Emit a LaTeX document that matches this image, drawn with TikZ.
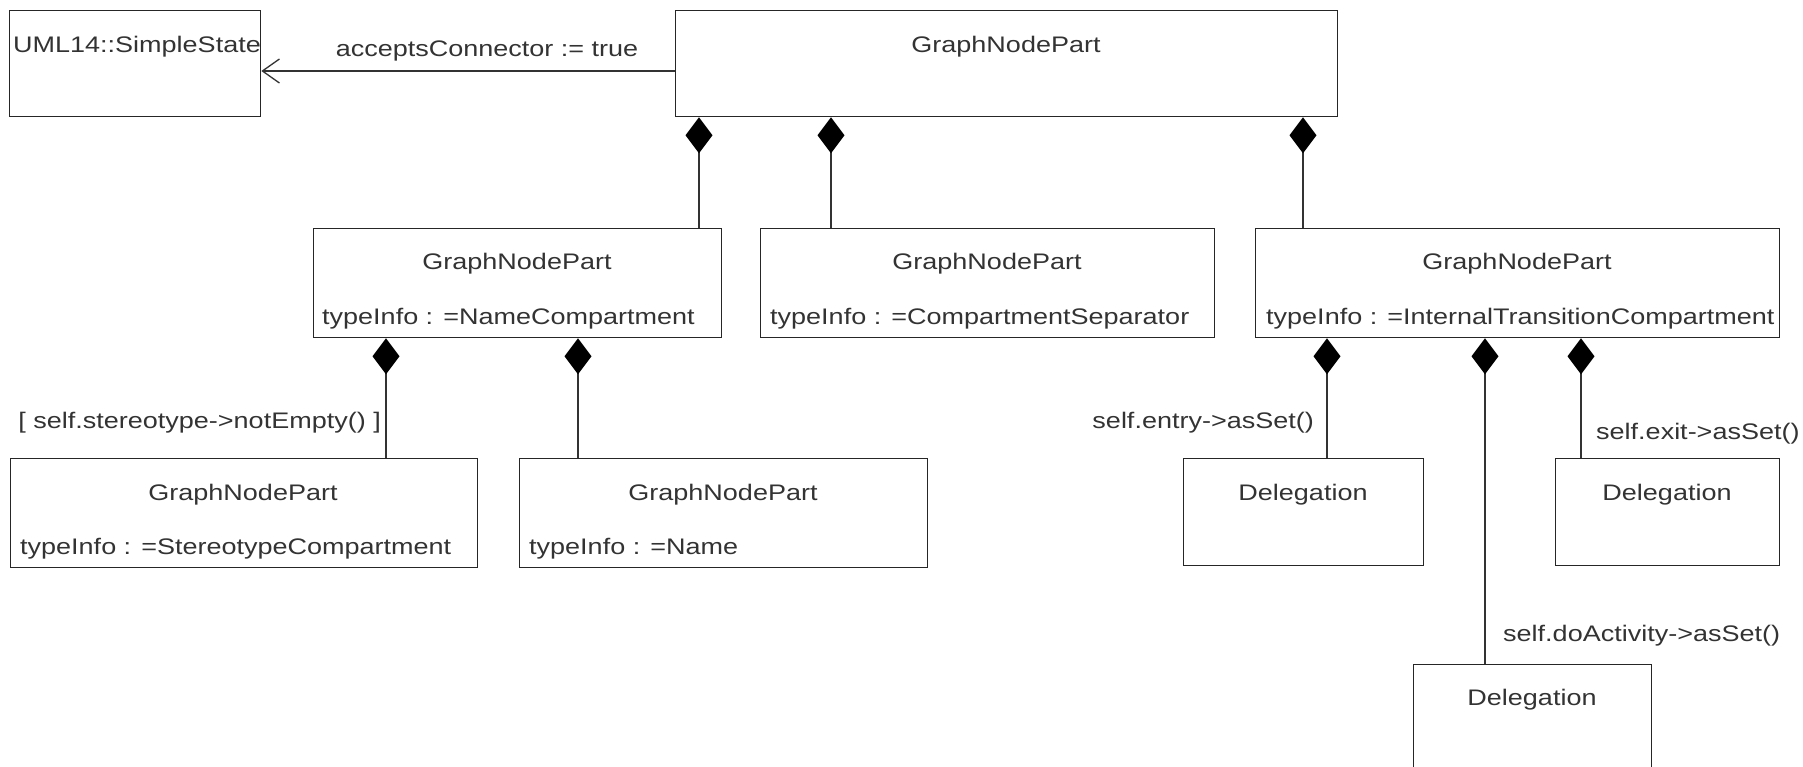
\documentclass[tikz,border=0pt]{standalone}
\usepackage{fontspec}
\setmainfont{Liberation Sans}[FakeStretch=1.2]
\usetikzlibrary{arrows.meta}
\newcommand{\tinfo}[1]{typeInfo :\hspace{0.45em}=#1}
\tikzset{
  box/.style={draw=black!85, line width=1.3pt, inner sep=0pt, anchor=north west},
  txt/.style={inner sep=0pt, text=black!80, font=\fontsize{22.5}{27}\selectfont},
  comp/.style={draw=black!80, line width=1.3pt, {Diamond[length=36pt,width=27pt,fill=black,color=black]}-},
  assoc/.style={draw=black!80, line width=1.3pt, -{Straight Barb[length=17pt,width=24pt]}}
}

\begin{document}
\begin{tikzpicture}[x=1pt, y=-1pt]
		\clip (0,0) rectangle (1803,767);

		% top row
		\node[box, minimum width=251, minimum height=106] at (9,10) (simple) {};
		\node[txt, anchor=west] at (13,47) (simpleT) {UML14::SimpleState};
		\node[box, minimum width=662, minimum height=106] at (675,10) (root) {};
		\node[txt] at (1006,47) (rootT) {GraphNodePart};

		\draw[assoc] (root.west |- 0,71) -- (simple.east |- 0,71);
		\node[txt] at (487,51) (accepts) {acceptsConnector := true};

		% compartments
		\node[box, minimum width=408, minimum height=109] at (313,228) (name) {};
		\node[txt] at (517,264) (nameT) {GraphNodePart};
		\node[txt, anchor=west] at (322,319) (nameI) {\tinfo{NameCompartment}};

		\node[box, minimum width=454, minimum height=109] at (760,228) (sep) {};
		\node[txt] at (987,264) (sepT) {GraphNodePart};
		\node[txt, anchor=west] at (770,319) (sepI) {\tinfo{CompartmentSeparator}};

		\node[box, minimum width=524, minimum height=109] at (1255,228) (itc) {};
		\node[txt] at (1517,264) (itcT) {GraphNodePart};
		\node[txt, anchor=west] at (1266,319) (itcI) {\tinfo{InternalTransitionCompartment}};

		\draw[comp] (root.south -| 699,0) -- (name.north -| 699,0);
		\draw[comp] (root.south -| 831,0) -- (sep.north -| 831,0);
		\draw[comp] (root.south -| 1303,0) -- (itc.north -| 1303,0);

		% name compartment parts
		\node[box, minimum width=467, minimum height=109] at (10,458) (stereo) {};
		\node[txt] at (243,495) (stereoT) {GraphNodePart};
		\node[txt, anchor=west] at (20,549) (stereoI) {\tinfo{StereotypeCompartment}};

		\node[box, minimum width=408, minimum height=109] at (519,458) (nm) {};
		\node[txt] at (723,495) (nmT) {GraphNodePart};
		\node[txt, anchor=west] at (529,549) (nmI) {\tinfo{Name}};

		\draw[comp] (name.south -| 386,0) -- (stereo.north -| 386,0);
		\draw[comp] (name.south -| 578,0) -- (nm.north -| 578,0);
		\node[txt, anchor=east] at (381,423) (notEmpty) {[ self.stereotype->notEmpty() ]};

		% internal transitions
		\node[box, minimum width=240, minimum height=107] at (1183,458) (entry) {};
		\node[txt] at (1303,495) (entryT) {Delegation};
		\node[box, minimum width=224, minimum height=107] at (1555,458) (exit) {};
		\node[txt] at (1667,495) (exitT) {Delegation};
		\node[box, minimum width=238, minimum height=140] at (1413,664) (doact) {};
		\node[txt] at (1532,700) (doactT) {Delegation};

		\draw[comp] (itc.south -| 1327,0) -- (entry.north -| 1327,0);
		\draw[comp] (itc.south -| 1485,0) -- (doact.north -| 1485,0);
		\draw[comp] (itc.south -| 1581,0) -- (exit.north -| 1581,0);
		\node[txt, anchor=east] at (1314,423) (entryL) {self.entry->asSet()};
		\node[txt, anchor=west] at (1596,434) (exitL) {self.exit->asSet()};
		\node[txt, anchor=west] at (1503,636) (doactL) {self.doActivity->asSet()};
\end{tikzpicture}
\end{document}
